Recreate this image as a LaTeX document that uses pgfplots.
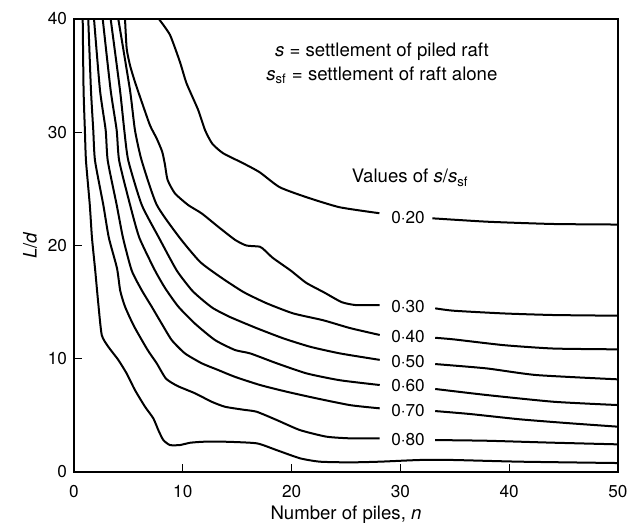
\documentclass[border=0pt]{standalone}
\usepackage{fontspec}
\setmainfont{TeX Gyre Heros}
\usepackage{pgfplots}
\pgfplotsset{compat=1.18}

\newcommand{\lblfont}{\fontsize{8.6}{10}\selectfont}
\newcommand{\txtfont}{\fontsize{9.3}{11}\selectfont}

\begin{document}
\begin{tikzpicture}
\begin{axis}[
    scale only axis,
    width=272pt, height=226.5pt,
    xmin=0, xmax=50, ymin=0, ymax=40,
    xtick={0,10,...,50}, ytick={0,10,...,40},
    tick pos=left, tick align=inside,
    major tick length=4pt,
    axis line style={line width=0.9pt},
    tick style={line width=0.6pt, black},
    ticklabel style={font=\lblfont},
    xticklabel style={yshift=-3pt},
    /pgf/number format/assume math mode=true,
    xlabel={Number of piles, \textit{n}},
    ylabel={\textit{L}/\textit{d}},
    label style={font=\txtfont},
    xlabel style={at={(axis description cs:0.5,-0.095)}, anchor=center},
    ylabel style={at={(axis description cs:-0.081,0.5)}, anchor=center},
    cycle list={{black, solid}},
    every axis plot/.append style={line width=1pt, no markers, smooth, tension=0.35},
]
% unlabelled lowest curve
\addplot coordinates {(0.8,40) (0.88,33.7) (1.0,30.2) (1.1,27.5) (1.45,23.6) (1.65,20.7) (1.95,17.8) (2.23,14.9) (2.55,12.1) (3.15,11.06) (4.07,9.9) (4.84,8.7) (5.6,7.24) (6.53,5.76) (7.29,4.74) (7.75,3.7) (8.21,2.82) (8.82,2.38) (9.74,2.38) (10.66,2.58) (11.88,2.67) (14.0,2.67) (16.8,2.53) (18.6,1.94) (20.77,1.21) (22.6,0.91) (25.4,0.85) (28.1,0.91) (31.8,1.06) (34.8,1.06) (41.0,0.91) (50,0.79)};
% 0.80
\addplot coordinates {(1.31,40) (1.56,33.7) (1.77,30.2) (1.93,27.5) (2.69,23.6) (3.2,20.7) (3.95,18) (4.25,16.0) (4.69,14.6) (5.5,12.9) (6.75,10.8) (7.6,9.6) (8.45,8.25) (9.5,7.6) (11.12,6.95) (12.66,6.2) (13.88,5.76) (15.56,5.5) (16.79,5.32) (18.63,4.59) (20.77,3.7) (23.2,3.12) (25.4,2.97) (28.1,2.97)};
\addplot coordinates {(33.2,2.82) (37.9,2.76) (43.9,2.59) (50,2.44)};
% 0.70
\addplot coordinates {(1.84,40) (2.39,33.7) (2.91,30.2) (3.1,27.5) (3.92,23.6) (4.5,20.7) (5.3,17.8) (6.22,16.06) (7.14,14.6) (8.06,13.1) (8.98,11.65) (10.2,10.47) (11.74,9.6) (13.26,9.0) (14.8,8.4) (17.1,7.68) (19.54,7.09) (22.3,6.5) (25.4,5.9) (28.1,5.62)};
\addplot coordinates {(33.2,5.38) (36.4,5.12) (41.0,4.65) (45.6,4.3) (50,4.0)};
% 0.60
\addplot coordinates {(2.64,40) (3.37,33.7) (3.92,30.2) (4.15,27.5) (5.15,23.6) (6.0,20.7) (7.44,17.8) (8.4,16.2) (9.59,14.6) (11.12,13.1) (12.96,11.65) (14.8,10.77) (16.2,10.47) (18.63,9.6) (21.4,8.7) (24.45,8.1) (28.1,7.68)};
\addplot coordinates {(33.2,7.33) (37.9,6.8) (44.1,6.2) (50,5.91)};
% 0.50
\addplot coordinates {(3.37,40) (4.23,33.7) (4.62,30.2) (4.99,27.5) (6.22,23.6) (7.8,20.7) (9.44,17.8) (10.82,16.06) (11.8,15.2) (12.8,14.45) (14.3,13.7) (16.79,12.7) (19.24,11.8) (21.7,11.06) (24.45,10.47) (28.1,9.9)};
\addplot coordinates {(33.2,9.53) (37.9,9.15) (42.5,8.56) (50,8.18)};
% 0.40
\addplot coordinates {(4.07,40) (5.15,33.7) (5.6,30.2) (6.22,27.5) (7.6,23.6) (9.7,20.7) (11.58,18.56) (13.42,17.24) (15.56,15.9) (17.7,14.9) (20.16,14.0) (22.9,13.4) (25.4,12.7) (28.1,12.1)};
\addplot coordinates {(33.2,11.85) (34.9,11.71) (39.5,11.2) (44.1,10.9) (50,10.83)};
% 0.30
\addplot coordinates {(4.69,40) (4.84,37.4) (5.15,35.9) (5.6,34.45) (6.22,32.7) (6.99,30.6) (7.6,29.45) (8.1,28.3) (8.35,27.2) (8.6,25.8) (9.28,24.6) (10.5,23.57) (11.74,22.83) (13.26,21.65) (14.8,20.5) (15.84,20.0) (17.06,19.9) (17.5,19.6) (18.28,18.9) (19.9,17.8) (21.35,16.7) (23.0,15.85) (24.6,15.0) (25.9,14.74) (28.1,14.74)};
\addplot coordinates {(33.2,14.45) (34.9,14.24) (39.5,14.0) (44.1,13.86) (50,13.8)};
% 0.20
\addplot coordinates {(7.8,40) (8.82,38.6) (9.74,36.2) (10.34,34.33) (11.4,32.0) (12.04,30.2) (12.7,29.0) (13.7,28.15) (15.53,27.27) (17.06,26.47) (18.9,25.15) (21.35,24.27) (24.4,23.38) (28.07,22.85)};
\addplot coordinates {(32.94,22.4) (38,22.1) (44,21.9) (50,21.85)};

% curve labels
\node[font=\lblfont, anchor=base] at (axis cs:30.7,21.9) {0·20};
\node[font=\lblfont, anchor=base] at (axis cs:30.7,14.06) {0·30};
\node[font=\lblfont, anchor=base] at (axis cs:30.7,11.41) {0·40};
\node[font=\lblfont, anchor=base] at (axis cs:30.7,9.2) {0·50};
\node[font=\lblfont, anchor=base] at (axis cs:30.7,7.09) {0·60};
\node[font=\lblfont, anchor=base] at (axis cs:30.7,4.94) {0·70};
\node[font=\lblfont, anchor=base] at (axis cs:30.7,2.38) {0·80};

% notes
\node[font=\txtfont, anchor=base] at (axis cs:28.3,36.65) {\textit{s} = settlement of piled raft};
\node[font=\txtfont, anchor=base] at (axis cs:28.3,34.6) {\textit{s}\textsubscript{sf} = settlement of raft alone};
\node[font=\txtfont, anchor=base] at (axis cs:30.9,25.53) {Values of \textit{s}/\textit{s}\textsubscript{sf}};
\end{axis}
\pgfresetboundingbox
\path[use as bounding box] (-37pt,-25.5pt) rectangle (277pt,236pt);
\end{tikzpicture}
\end{document}
